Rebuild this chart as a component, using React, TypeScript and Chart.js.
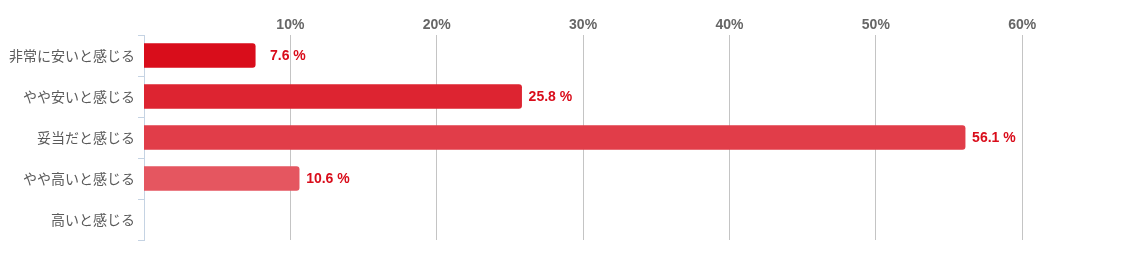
import React, { useEffect, useRef } from "react";
import { Chart, registerables } from "chart.js";

Chart.register(...registerables);

const categories = ["非常に安いと感じる", "やや安いと感じる", "妥当だと感じる", "やや高いと感じる", "高いと感じる"];
const values = [7.6, 25.8, 56.1, 10.6, 0];
const barColors = ["#d90d1b", "#dd2431", "#e13d49", "#e55660", "#e96f77"];
const xTicks = [10, 20, 30, 40, 50, 60];

const valueLabels = {
  id: "valueLabels",
  afterDatasetsDraw(chart: any) {
    const ctx = chart.ctx;
    const meta = chart.getDatasetMeta(0);
    ctx.save();
    ctx.font = "bold 14px 'Liberation Sans', Arial, sans-serif";
    ctx.fillStyle = "#d90d1b";
    ctx.textAlign = "right";
    ctx.textBaseline = "middle";
    const boxW = ctx.measureText("00.0 %").width;
    meta.data.forEach((bar: any, i: number) => {
      const v = values[i];
      if (!v) return;
      ctx.fillText(v.toFixed(1) + " %", bar.x + 7 + boxW, bar.y + 1);
    });
    ctx.restore();
  },
};

export default function App() {
  const ref = useRef<HTMLCanvasElement>(null);
  useEffect(() => {
    const chart = new Chart(ref.current!, {
      type: "bar",
      data: {
        labels: categories,
        datasets: [
          {
            data: values,
            backgroundColor: (c: any) => (values[c.dataIndex] ? barColors[c.dataIndex] : "rgba(0,0,0,0)"),
            barThickness: 24,
            borderRadius: 3,
            borderSkipped: "start",
          },
        ],
      },
      options: {
        indexAxis: "y",
        animation: false,
        responsive: true,
        maintainAspectRatio: false,
        layout: { padding: { left: 0, right: 14, top: 0, bottom: 15 } },
        plugins: { legend: { display: false }, tooltip: { enabled: false } },
        scales: {
          x: {
            position: "top",
            min: 0,
            max: 66,
            afterBuildTicks: (s: any) => {
              s.ticks = xTicks.map((v) => ({ value: v }));
            },
            afterFit: (s: any) => {
              s.height = 35;
            },
            grid: { color: "#c4c4c4", drawTicks: false, lineWidth: 1 },
            border: { display: false },
            ticks: {
              padding: 1,
              color: "#666666",
              font: { family: "'Liberation Sans', Arial, sans-serif", size: 14, weight: "bold" },
              callback: (v: any) => v + "%",
            },
          },
          y: {
            afterFit: (s: any) => {
              s.width = 144;
            },
            grid: { drawOnChartArea: false, color: "#c5d3e3", tickLength: 6 },
            border: { color: "#c5d3e3" },
            ticks: {
              padding: 3,
              color: "#5a5a5a",
              font: { family: "'Noto Sans CJK JP', sans-serif", size: 14 },
            },
          },
        },
      },
      plugins: [valueLabels],
    });
    return () => chart.destroy();
  }, []);
  return (
    <div style={{ position: "fixed", left: 0, top: 0, width: 1124, height: 255, background: "#fff" }}>
      <canvas ref={ref} />
    </div>
  );
}
